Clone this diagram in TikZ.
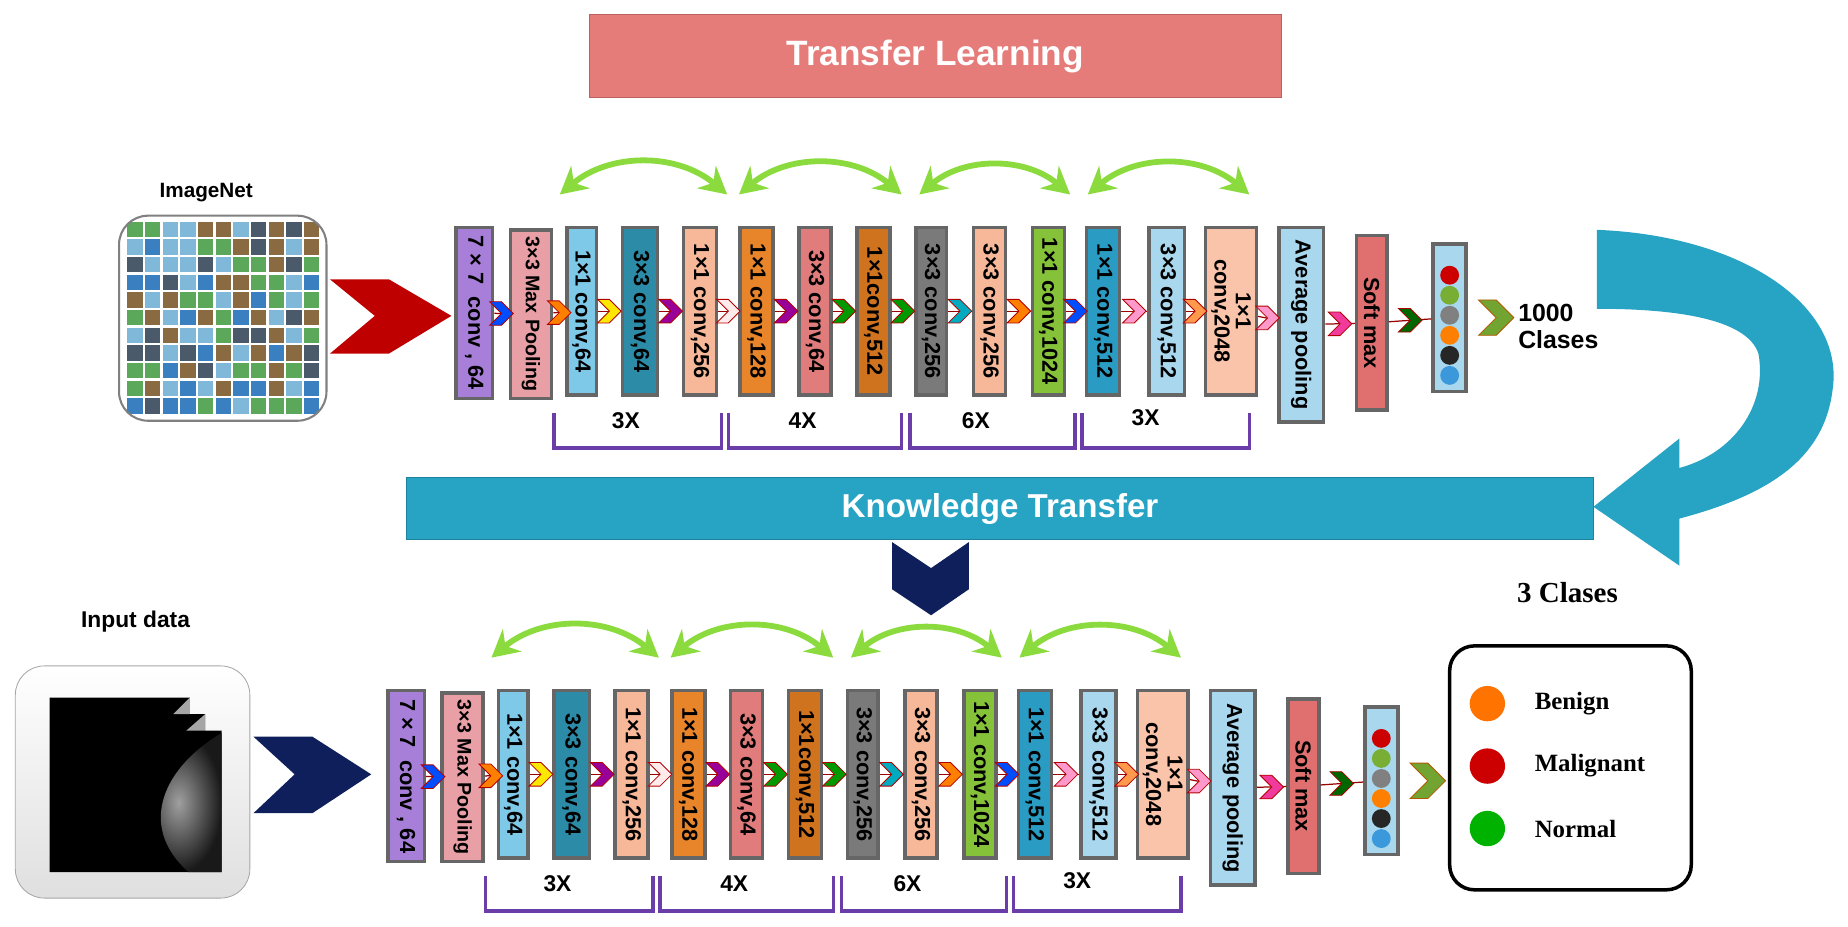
\documentclass[tikz,border=0pt]{standalone}
\usepackage{fontspec}
\setmainfont{Liberation Sans}
\newfontfamily\tnr{Liberation Serif}
\usetikzlibrary{calc,arrows.meta}

\definecolor{cPurple}{HTML}{A77FD8}
\definecolor{cPool}{HTML}{E8A0A6}
\definecolor{cLblue}{HTML}{7EC8E8}
\definecolor{cTeal}{HTML}{2C8CA8}
\definecolor{cPeach}{HTML}{F7B899}
\definecolor{cOrange}{HTML}{E8852A}
\definecolor{cSalmon}{HTML}{E07C7C}
\definecolor{cBrown}{HTML}{D0731F}
\definecolor{cGray}{HTML}{7A7A7A}
\definecolor{cGreen}{HTML}{86C13A}
\definecolor{cBlue}{HTML}{2A9CC4}
\definecolor{cPale}{HTML}{A9D8EE}
\definecolor{cPeach2}{HTML}{F9C4AA}
\definecolor{cSoft}{HTML}{E07070}
\definecolor{cTL}{HTML}{E57C7A}
\definecolor{cKT}{HTML}{27A3C4}
\definecolor{cNavy}{HTML}{0F1F5C}
\definecolor{cArc}{HTML}{8CDB3E}
\definecolor{cBrk}{HTML}{6A3DA8}
\definecolor{t1}{HTML}{3A7FC0}
\definecolor{t2}{HTML}{5BA85A}
\definecolor{t3}{HTML}{8A6A40}
\definecolor{t4}{HTML}{7FB8D8}
\definecolor{t5}{HTML}{4A5A6A}

\tikzset{
  blk/.style={draw=black!60,line width=1.7pt,inner sep=0pt,font=\bfseries\fontsize{10.5}{11.5}\selectfont},
  link/.style={draw=red!60!black,line width=0.6pt},
  arc/.style={draw=cArc,line width=2.8pt,{Stealth[length=13pt,width=14pt]}-{Stealth[length=13pt,width=14pt]}},
  brk/.style={draw=cBrk,line width=1.7pt},
  lbl/.style={font=\bfseries\fontsize{11}{12}\selectfont}
}

% block: name, cx, cy, w, h, colour, text
\newcommand{\blk}[7]{\node[blk,fill=#6,minimum width=#4*0.02cm,minimum height=#5*0.02cm] (#1) at (#2,#3) {\rotatebox{-90}{#7}};}
% small chevron between two blocks
\newcommand{\chev}[3]{%
  \draw[link] (#1) -- (#2);
  \coordinate (cc) at ($(#1.east)!.5!(#2.west)$);
  \filldraw[fill=#3,draw=red!70!black,line width=0.4pt] (cc) ++(-10,-10) -- ++(10,0) -- ++(10,10) -- ++(-10,10) -- ++(-10,0) -- ++(10,-10) -- cycle;}

\newcommand{\resnet}[1]{%
  \blk{#1b1}{402.5}{265.5}{31}{145}{cPurple}{7 × 7 \ conv , 64}
  \blk{#1b2}{450.5}{266.5}{35}{143}{cPool}{\fontsize{9.5}{10}\selectfont 3×3 Max Pooling}
  \blk{#1b3}{493.5}{264}{25}{142}{cLblue}{1×1 conv,64}
  \blk{#1b4}{543}{264}{30}{142}{cTeal}{3×3 conv,64}
  \blk{#1b5}{594}{264}{28}{142}{cPeach}{1×1 conv,256}
  \blk{#1b6}{642}{264}{28}{142}{cOrange}{1×1 conv,128}
  \blk{#1b7}{691.5}{264}{27}{142}{cSalmon}{3×3 conv,64}
  \blk{#1b8}{741}{264}{28}{142}{cBrown}{1×1conv,512}
  \blk{#1b9}{790}{264}{26}{142}{cGray}{3×3 conv,256}
  \blk{#1b10}{839.5}{264}{27}{142}{cPeach}{3×3 conv,256}
  \blk{#1b11}{889.5}{264}{27}{142}{cGreen}{1×1 conv,1024}
  \blk{#1b12}{936}{264}{28}{142}{cBlue}{1×1 conv,512}
  \blk{#1b13}{990}{264}{30}{142}{cPale}{3×3 conv,512}
  \blk{#1b14}{1044.5}{264}{43}{142}{cPeach2}{\shortstack{1×1\\conv,2048}}
  \blk{#1b15}{1104}{275.5}{38}{165}{cPale}{\fontsize{10.5}{11}\selectfont Average pooling}
  \blk{#1b16}{1164}{274}{26}{148}{cSoft}{Soft max}
  \blk{#1b17}{1230}{269.5}{28}{125}{cPale}{}
  \foreach \c [count=\k] in {red!80!black,cGreen!90!black,gray,orange,black!85,cyan!70!blue!80} {
    \fill[\c] ($(#1b17.north)+(0,11+\k*17)$) circle (8);
  }
  \chev{#1b1}{#1b2}{blue!70!cyan}
  \chev{#1b2}{#1b3}{orange}
  \chev{#1b3}{#1b4}{yellow!90!orange}
  \chev{#1b4}{#1b5}{violet!80!magenta}
  \chev{#1b5}{#1b6}{red!8}
  \chev{#1b6}{#1b7}{violet!80!magenta}
  \chev{#1b7}{#1b8}{green!60!black}
  \chev{#1b8}{#1b9}{green!60!black}
  \chev{#1b9}{#1b10}{cyan!70!green}
  \chev{#1b10}{#1b11}{orange}
  \chev{#1b11}{#1b12}{blue!70!cyan}
  \chev{#1b12}{#1b13}{pink!80!magenta}
  \chev{#1b13}{#1b14}{orange!60!pink}
  \chev{#1b14}{#1b15}{pink!80!magenta}
  \chev{#1b15}{#1b16}{magenta!70!pink}
  \chev{#1b16}{#1b17}{green!40!black}
  \coordinate (#1o) at ($(#1b17.east)+(24,0)$);
  \filldraw[fill=cGreen!85!black,draw=orange!70!black,line width=0.4pt] (#1o) ++(-15,-15) -- ++(15,0) -- ++(15,15) -- ++(-15,15) -- ++(-15,0) -- ++(15,-15) -- cycle;
  % residual arcs
  \coordinate (#1a1) at (475,165);  \coordinate (#1a2) at (617,165);
  \coordinate (#1a3) at (627,165);  \coordinate (#1a4) at (765,165);
  \coordinate (#1a5) at (780,165);  \coordinate (#1a6) at (908,165);
  \coordinate (#1a7) at (923,165);  \coordinate (#1a8) at (1060,165);
  \draw[arc] (#1a1) to[bend left=40] (#1a2);
  \draw[arc] (#1a3) to[bend left=40] (#1a4);
  \draw[arc] (#1a5) to[bend left=40] (#1a6);
  \draw[arc] (#1a7) to[bend left=40] (#1a8);
  % repeat brackets
  \draw[brk] (470,350) -- (470,380) -- (612,380) -- (612,350);
  \draw[brk] (618,350) -- (618,380) -- (765,380) -- (765,350);
  \draw[brk] (772,350) -- (772,380) -- (912,380) -- (912,350);
  \draw[brk] (918,350) -- (918,380) -- (1060,380) -- (1060,350);
  \node[lbl] at (531,357) {3X};
  \node[lbl] at (681,357) {4X};
  \node[lbl] at (828,357) {6X};
  \node[lbl] at (972,354) {3X};
}

\begin{document}
\begin{tikzpicture}[x=0.02cm,y=-0.02cm]
  \useasboundingbox (0,0) rectangle (1568,786.5);

  \node[fill=cTL,draw=cTL!80!black,minimum width=587*0.02cm,minimum height=71*0.02cm,
        text=white,font=\bfseries\fontsize{17}{18}\selectfont] (tl) at (793.5,47.5) {Transfer Learning};

  % ImageNet
  \node[font=\bfseries\fontsize{10}{11}\selectfont] (inet) at (175,163) {ImageNet};
  \begin{scope}
    \clip[rounded corners=14] (101,183) rectangle (277,357);
    \pgfmathsetseed{11}
    \foreach \i in {0,...,10} \foreach \j in {0,...,10} {
      \pgfmathrandominteger{\c}{1}{5}
      \fill[t\c] (108+\i*15,188+\j*15) rectangle ++(13,13);
    }
  \end{scope}
  \draw[gray,line width=1pt,rounded corners=14] (101,183) rectangle (277,357);
  \fill[red!75!black] (280,237) -- (330,237) -- (383,268) -- (330,300) -- (280,300) -- (318,268) -- cycle;

  \resnet{t}
  \node[font=\bfseries\fontsize{12}{13}\selectfont,align=left,anchor=west] (k1000) at (1282,277) {1000\\Clases};

  % knowledge transfer
  \node[fill=cKT,draw=cKT!80!black,minimum width=1007*0.02cm,minimum height=53*0.02cm,
        text=white,font=\bfseries\fontsize{16}{17}\selectfont] (kt) at (848.5,431.5) {Knowledge Transfer};
  \fill[cKT] (1355,195) .. controls (1480,200) and (1565,260) .. (1555,330)
     .. controls (1548,390) and (1500,420) .. (1425,440) -- (1425,480) -- (1352,430) -- (1425,372)
     -- (1425,397) .. controls (1470,385) and (1500,345) .. (1492,300)
     .. controls (1482,270) and (1420,262) .. (1355,262) -- cycle;
  \fill[cNavy] (757,460) -- (790,482) -- (822,460) -- (822,500) -- (790,522) -- (757,500) -- cycle;
  \node[font=\tnr\bfseries\fontsize{14}{15}\selectfont] (k3) at (1330,503) {3 Clases};

  % input data
  \node[font=\bfseries\fontsize{11}{12}\selectfont] (inp) at (115,527) {Input data};
  \shade[top color=white,bottom color=gray!25,draw=gray!70,rounded corners=14] (13,565) rectangle (212,762);
  \fill[black] (42,592) -- (161,592) -- (161,606) -- (174,606) -- (174,620) -- (188,620) -- (188,740) -- (42,740) -- cycle;
  \fill[gray!70] (161,592) -- (147,606) -- (161,606) -- cycle;
  \fill[gray!70] (174,606) -- (158,620) -- (174,620) -- cycle;
  \shade[inner color=gray!75,outer color=gray!20!black] (188,622) .. controls (140,650) and (115,700) .. (160,740) -- (188,740) -- cycle;
  \fill[cNavy] (215,625) -- (265,625) -- (315,657) -- (265,690) -- (215,690) -- (250,657) -- cycle;

  \begin{scope}[shift={(-58,393)}]
    \resnet{b}
  \end{scope}

  % legend
  \draw[line width=1.7pt,rounded corners=12] (1230,548) rectangle (1435,755);
  \fill[orange!90!red] (1262,597) circle (15);
  \fill[red!80!black] (1262,650) circle (15);
  \fill[green!70!black] (1262,703) circle (15);
  \node[font=\tnr\bfseries\fontsize{12}{13}\selectfont,anchor=west] (lb) at (1296,597) {Benign};
  \node[font=\tnr\bfseries\fontsize{12}{13}\selectfont,anchor=west] (lm) at (1296,650) {Malignant};
  \node[font=\tnr\bfseries\fontsize{12}{13}\selectfont,anchor=west] (ln) at (1296,703) {Normal};
\end{tikzpicture}
\end{document}
